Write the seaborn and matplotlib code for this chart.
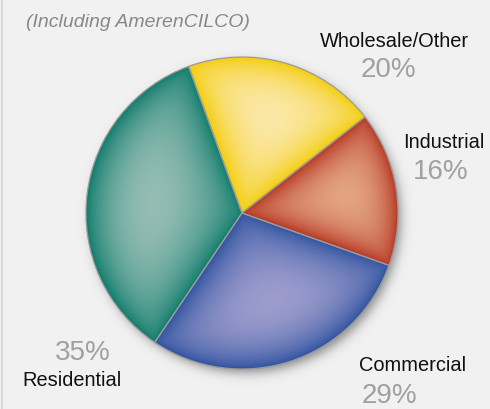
import numpy as np
import matplotlib
matplotlib.use("Agg")
import matplotlib.pyplot as plt
import seaborn as sns

# Electric sales mix
categories = ["Wholesale/Other", "Industrial", "Commercial", "Residential"]
shares = [20, 16, 29, 35]
pct_labels = ["20%", "16%", "29%", "35%"]
subtitle = "(Including AmerenCILCO)"

# slice colours: saturated rim and pale core of each shaded wedge
rim_colors = ["#f4cc06", "#b4321f", "#2b509e", "#0a7a69"]
core_colors = ["#fbe8a6", "#e3a383", "#9c9ccd", "#94bdb4"]

sns.set_theme(style="white")
plt.rcParams["font.family"] = ["Liberation Sans", "DejaVu Sans"]

W, H = 490, 410
BG = "#f1f1f1"
fig = plt.figure(figsize=(W / 100, H / 100), dpi=100, facecolor=BG)
ax = fig.add_axes([0, 0, 1, 1])
ax.set_facecolor(BG)

cx, cy, R = 242.0, H - 214.0, 156.0
pie_kw = dict(startangle=110, counterclock=False, center=(cx, cy), radius=R)

# soft drop shadow under the disc
g = np.arange(cx - R - 40, cx + R + 40, 1.0)
gy = np.arange(cy - R - 40, cy + R + 40, 1.0)
GX, GY = np.meshgrid(g, gy)
ds = np.hypot(GX - (cx + 4), GY - (cy - 5))
shadow = np.zeros(GX.shape + (4,))
shadow[..., 3] = 0.42 / (1 + np.exp((ds - R + 1) / 3.2))
ax.imshow(shadow, extent=(g[0], g[-1], gy[0], gy[-1]), origin="lower",
          interpolation="bilinear", zorder=1)

wedges, _ = ax.pie(shares, colors=rim_colors,
                   wedgeprops=dict(linewidth=0, zorder=2), **pie_kw)

# smooth shape-burst shading inside each wedge
xs = np.arange(cx - R - 2, cx + R + 2, 0.5)
ys = np.arange(cy - R - 2, cy + R + 2, 0.5)
X, Y = np.meshgrid(xs, ys)
r = np.hypot(X - cx, Y - cy)
phi = np.degrees(np.arctan2(Y - cy, X - cx))
eps = 1e-3
for w, rim, core in zip(wedges, rim_colors, core_colors):
    t1, t2 = w.theta1, w.theta2
    span = t2 - t1
    a = (phi - t1) % 360
    inside = (a <= span) & (r <= R)
    b = np.clip(span - a, 0, None)
    d1 = np.where(a < 90, r * np.sin(np.radians(np.minimum(a, 90))), r)
    d2 = np.where(b < 90, r * np.sin(np.radians(np.minimum(b, 90))), r)
    d3 = np.clip(R - r, 0, None)
    # soft minimum of the three edge distances avoids sharp creases
    d = (1 / (d1 + eps) ** 2 + 1 / (d2 + eps) ** 2 + 1 / (d3 + eps) ** 2) ** -0.5
    dmax = d[inside].max()
    t = np.clip(d / dmax, 0, 1) ** 0.7
    c0 = np.array(matplotlib.colors.to_rgb(rim))
    c1 = np.array(matplotlib.colors.to_rgb(core))
    img = np.ones(X.shape + (4,))
    img[..., :3] = c0 + (c1 - c0) * t[..., None]
    im = ax.imshow(img, extent=(xs[0], xs[-1], ys[0], ys[-1]), origin="lower",
                   interpolation="bilinear", zorder=3)
    im.set_clip_path(w)

# thin grey separators and rim
ax.pie(shares, wedgeprops=dict(facecolor="none", edgecolor="#9b9b9b",
                               linewidth=0.9, zorder=4), **pie_kw)

ax.set_xlim(0, W)
ax.set_ylim(0, H)
ax.set_aspect("equal")
ax.axis("off")

# left border rule
ax.plot([1.5, 1.5], [0, H], color="#d4d4d4", lw=1.2, zorder=5)

ax.text(26, H - 27, subtitle, fontsize=14, style="italic", color="#888888",
        ha="left", va="baseline")

# label layout: (name x, name baseline, pct x, pct baseline)
label_pos = {
    "Wholesale/Other": (394, 47, 388, 77),
    "Industrial": (444, 148, 440.5, 179),
    "Commercial": (412.5, 371.5, 389, 403),
    "Residential": (72, 386.5, 82.5, 360.5),
}
for name, pct in zip(categories, pct_labels):
    nx, ny, px, py = label_pos[name]
    ax.text(nx, H - ny, name, fontsize=14.4, color="#111111",
            ha="center", va="baseline")
    ax.text(px, H - py, pct, fontsize=20, color="#a0a0a0",
            ha="center", va="baseline")

fig.savefig("out.png", dpi=100, facecolor=BG)
